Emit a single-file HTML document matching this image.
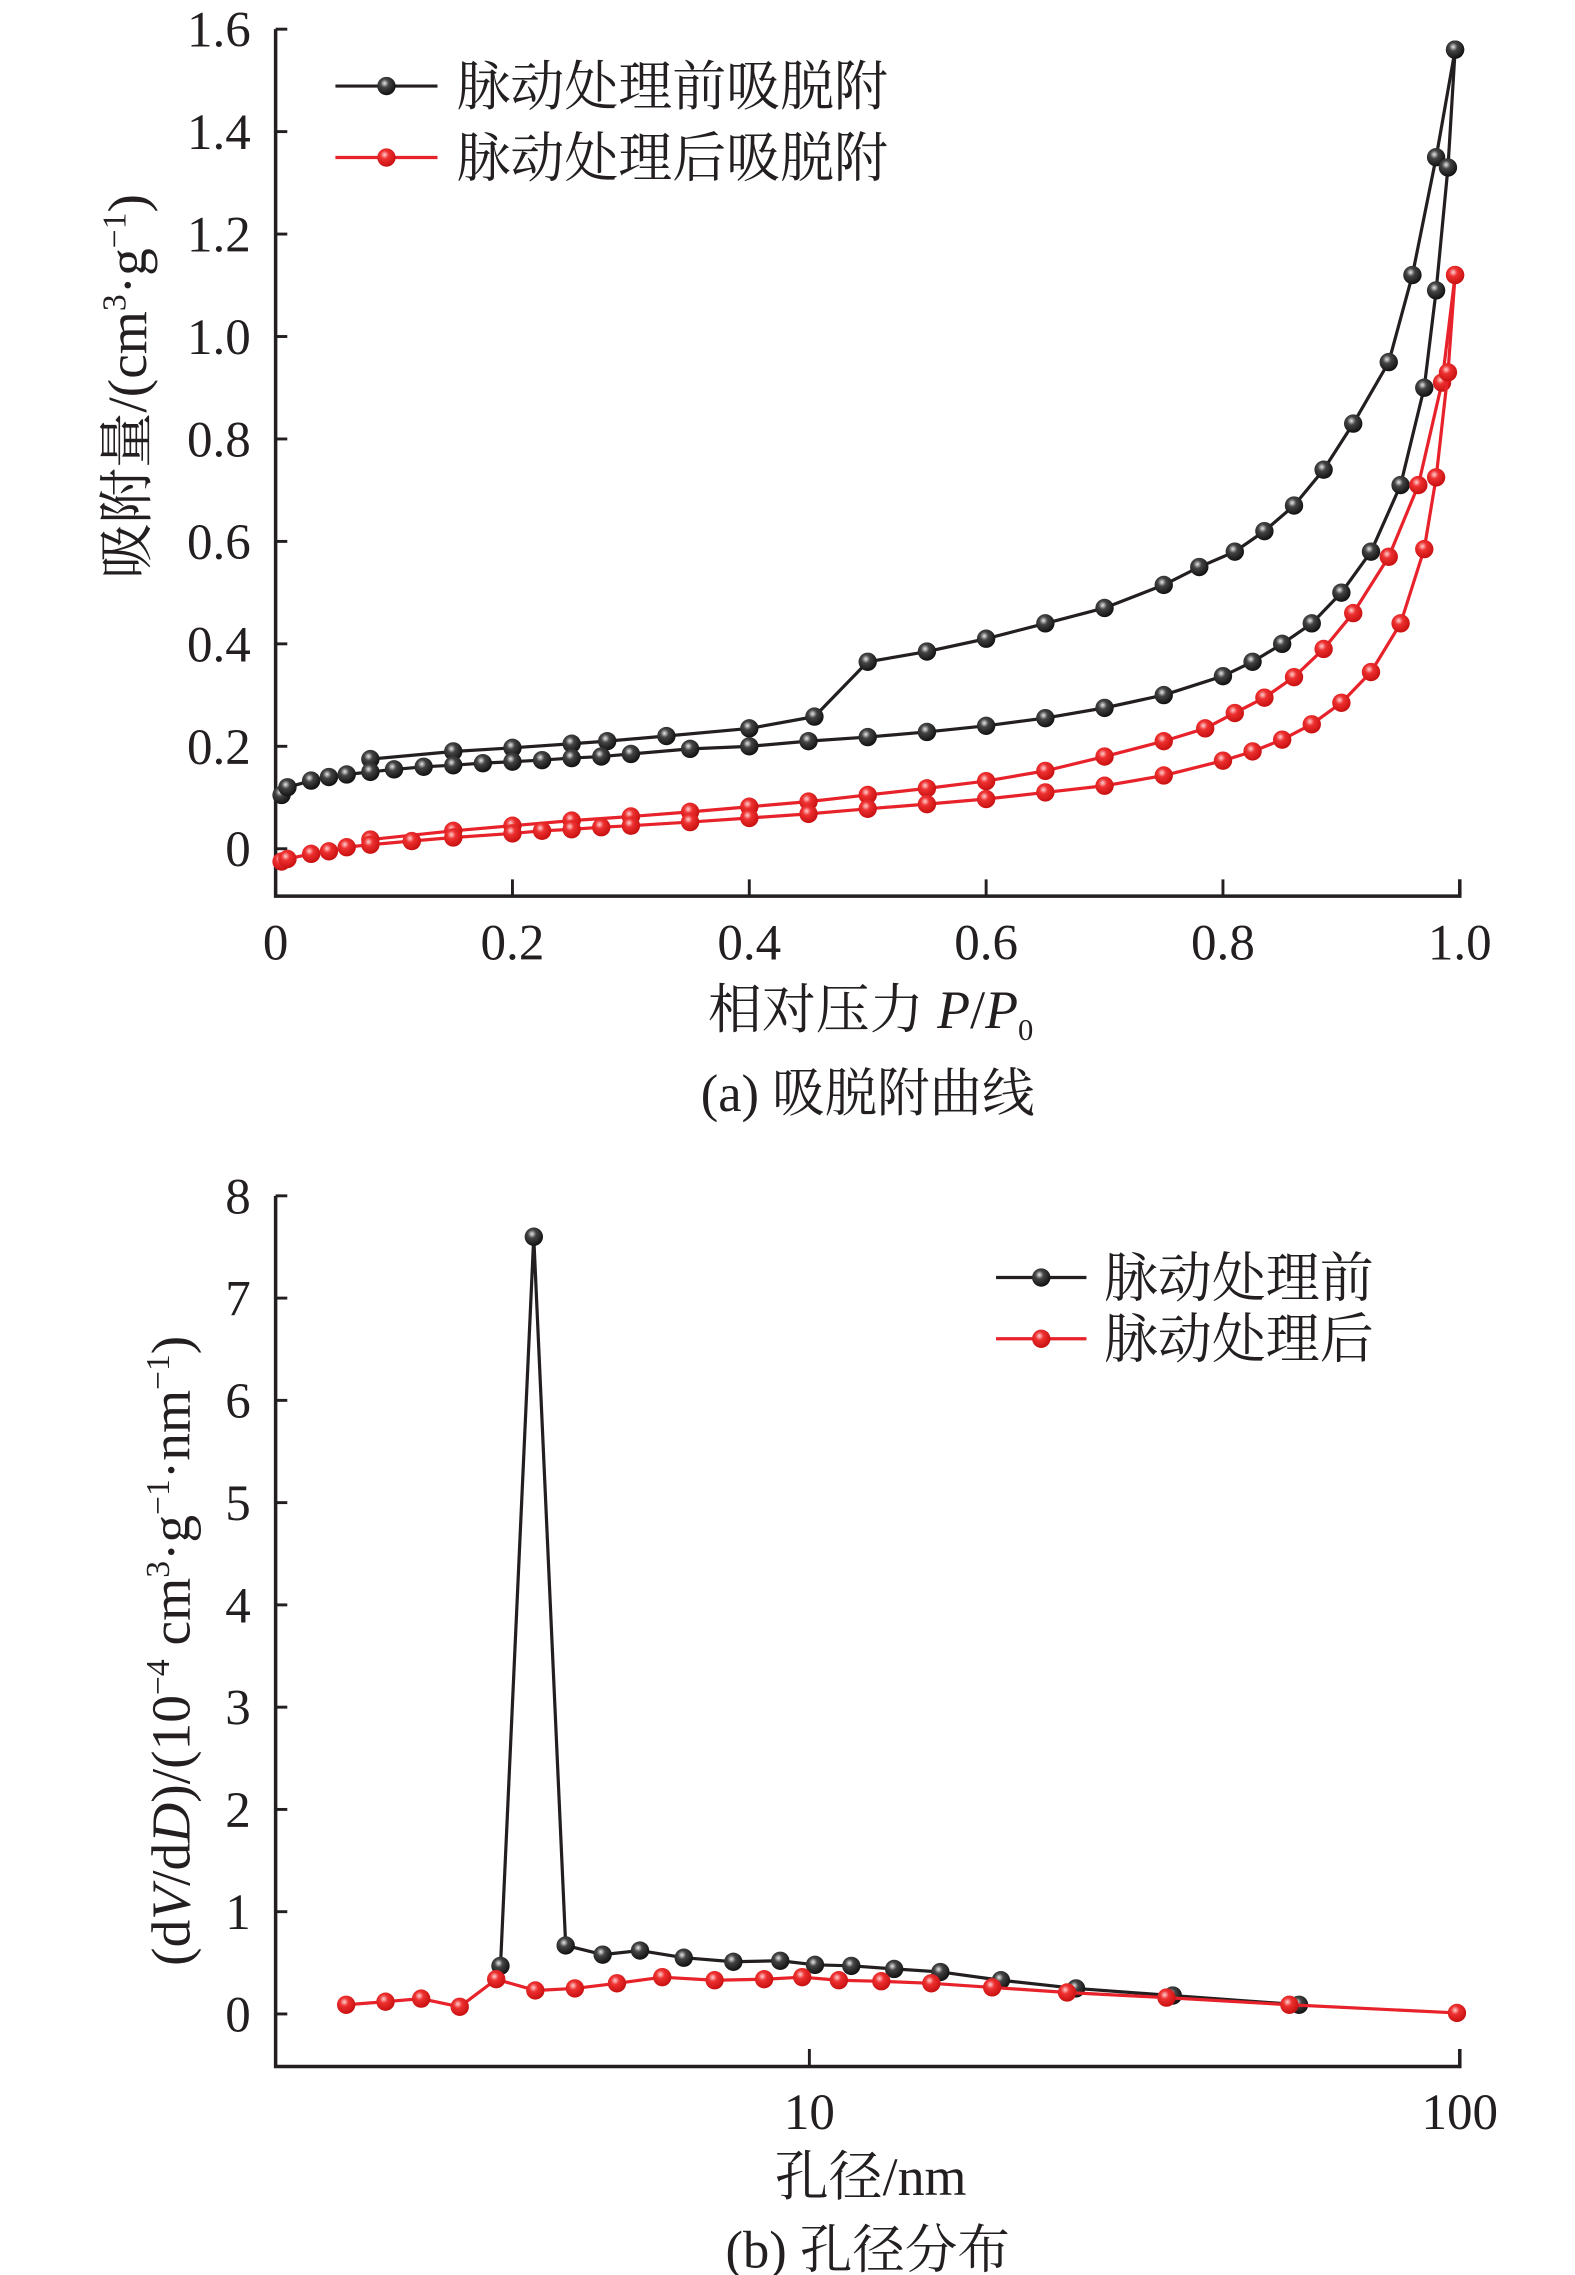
<!DOCTYPE html>
<html><head><meta charset="utf-8"><style>
html,body{margin:0;padding:0;background:#fff;overflow:hidden;}
svg{display:block;}
text{font-family:"Liberation Serif","Noto Serif CJK SC",serif;fill:#231f20;}
</style></head><body>
<svg id="fig" width="1575" height="2275" viewBox="0 0 1080 1560" xmlns="http://www.w3.org/2000/svg">
<defs>
<radialGradient id="gBlack" cx="0.4" cy="0.35" r="0.65"><stop offset="0" stop-color="#e8e8e8"/><stop offset="0.35" stop-color="#444"/><stop offset="1" stop-color="#111"/></radialGradient>
<radialGradient id="gRed" cx="0.4" cy="0.35" r="0.65"><stop offset="0" stop-color="#ffd0d0"/><stop offset="0.35" stop-color="#ee3030"/><stop offset="1" stop-color="#c81010"/></radialGradient>
</defs>
<g id="chartA"></g>
<g id="chartB"></g>
</svg>
<script>
// ---- Chart A data ----
const aYTicks = [0, 0.2, 0.4, 0.6, 0.8, 1.0, 1.2, 1.4, 1.6];
const aYTickLabels = ["0","0.2","0.4","0.6","0.8","1.0","1.2","1.4","1.6"];
const aXTicks = [0, 0.2, 0.4, 0.6, 0.8, 1.0];
const aXTickLabels = ["0","0.2","0.4","0.6","0.8","1.0"];
const blackAdsX = [0.005,0.01,0.03,0.045,0.06,0.08,0.1,0.125,0.15,0.175,0.2,0.225,0.25,0.275,0.3,0.35,0.4,0.45,0.5,0.55,0.6,0.65,0.7,0.75,0.8,0.825,0.85,0.875,0.9,0.925,0.95,0.97,0.98,0.99,0.996];
const blackAdsY = [0.105,0.12,0.133,0.14,0.145,0.15,0.155,0.16,0.163,0.167,0.17,0.173,0.177,0.18,0.185,0.195,0.2,0.21,0.218,0.228,0.24,0.255,0.275,0.30,0.337,0.365,0.40,0.44,0.50,0.58,0.71,0.90,1.09,1.33,1.56];
const blackDesX = [0.996,0.98,0.96,0.94,0.91,0.885,0.86,0.835,0.81,0.78,0.75,0.7,0.65,0.6,0.55,0.5,0.455,0.4,0.33,0.28,0.25,0.2,0.15,0.08];
const blackDesY = [1.56,1.35,1.12,0.95,0.83,0.74,0.67,0.62,0.58,0.55,0.515,0.47,0.44,0.41,0.385,0.365,0.258,0.235,0.22,0.21,0.205,0.197,0.19,0.175];
const redAdsX = [0.005,0.01,0.03,0.045,0.06,0.08,0.115,0.15,0.2,0.225,0.25,0.275,0.3,0.35,0.4,0.45,0.5,0.55,0.6,0.65,0.7,0.75,0.8,0.825,0.85,0.875,0.9,0.925,0.95,0.97,0.98,0.99,0.996];
const redAdsY = [-0.025,-0.02,-0.01,-0.005,0.003,0.008,0.015,0.022,0.03,0.035,0.038,0.042,0.045,0.052,0.06,0.068,0.078,0.087,0.097,0.11,0.123,0.143,0.172,0.19,0.213,0.243,0.285,0.345,0.44,0.585,0.725,0.93,1.12];
const redDesX = [0.996,0.985,0.965,0.94,0.91,0.885,0.86,0.835,0.81,0.785,0.75,0.7,0.65,0.6,0.55,0.5,0.45,0.4,0.35,0.3,0.25,0.2,0.15,0.08];
const redDesY = [1.12,0.91,0.71,0.57,0.46,0.39,0.335,0.295,0.265,0.235,0.21,0.18,0.152,0.132,0.118,0.105,0.092,0.082,0.072,0.063,0.055,0.045,0.035,0.018];
// ---- Chart B data ----
const bYTicks = [0,1,2,3,4,5,6,7,8];
const bYTickLabels = ["0","1","2","3","4","5","6","7","8"];
const bXTicks = [10, 100];
const bXTickLabels = ["10","100"];
const blackPoreX = [3.35,3.77,4.22,4.81,5.49,6.41,7.64,9.02,10.2,11.6,13.5,15.9,19.7,25.7,36.2,56.6];
const blackPoreY = [0.47,7.6,0.67,0.58,0.62,0.55,0.51,0.52,0.48,0.47,0.44,0.41,0.33,0.25,0.18,0.09];
const redPoreX = [1.94,2.23,2.53,2.90,3.30,3.79,4.36,5.06,5.94,7.15,8.52,9.75,11.1,12.9,15.4,19.1,24.9,35.4,54.7,99.0];
const redPoreY = [0.09,0.12,0.15,0.07,0.34,0.23,0.25,0.30,0.36,0.33,0.34,0.36,0.33,0.32,0.30,0.26,0.21,0.16,0.09,0.01];

const NS = "http://www.w3.org/2000/svg";
function mk(parent, tag, attrs, txt){
  const e = document.createElementNS(NS, tag);
  for (const k in attrs) e.setAttribute(k, attrs[k]);
  if (txt !== undefined) e.textContent = txt;
  parent.appendChild(e);
  return e;
}
const AXC = "#231f20";

const axA = v => 189 + (v - 0) / 1.0 * (1001 - 189);
const ayA = v => 582 - v / 1.6 * (582 - 20);
const axB = v => 555 + (Math.log10(v) - 1) * 446;
const ayB = v => 1381 - v / 8 * (1381 - 820);

function drawSeries(g, xs, ys, fx, fy, color, grad, name){
  const pts = xs.map((x,i)=> fx(x).toFixed(1)+","+fy(ys[i]).toFixed(1)).join(" ");
  const pl = mk(g, "polyline", {points: pts, fill:"none", stroke: color, "stroke-width": 2.2, "stroke-linejoin":"round"});
  
  
  xs.forEach((x,i)=>{
    const c = mk(g, "circle", {cx: fx(x), cy: fy(ys[i]), r: 6.3, fill: "url(#"+grad+")"});
    
    
  });
}

const gA = document.getElementById("chartA");
{
  const ax = mk(gA, "path", {d:"M189 20 V614.5 H1001 V603", fill:"none", stroke:AXC, "stroke-width":2.4});
  
  
  aYTicks.forEach((v,i)=>{
    const y = ayA(v);
    const t = mk(gA, "line", {x1:189, x2:197, y1:y, y2:y, stroke:AXC, "stroke-width":2});
    
    
    const l = mk(gA, "text", {x:172, y:y+12, "text-anchor":"end", "font-size":35}, aYTickLabels[i]);
    
    
  });
  aXTicks.forEach((v,i)=>{
    const x = axA(v);
    const t = mk(gA, "line", {x1:x, x2:x, y1:614.5, y2:603, stroke:AXC, "stroke-width":2});
    
    
    const l = mk(gA, "text", {x:x, y:658, "text-anchor":"middle", "font-size":35}, aXTickLabels[i]);
    
    
  });
  drawSeries(gA, blackDesX, blackDesY, axA, ayA, "#231f20", "gBlack", "black-desorption");
  drawSeries(gA, blackAdsX, blackAdsY, axA, ayA, "#231f20", "gBlack", "black-adsorption");
  drawSeries(gA, redDesX, redDesY, axA, ayA, "#e8222a", "gRed", "red-desorption");
  drawSeries(gA, redAdsX, redAdsY, axA, ayA, "#e8222a", "gRed", "red-adsorption");
}

const gB = document.getElementById("chartB");
{
  const ax = mk(gB, "path", {d:"M189 820 V1417 H1001 V1405", fill:"none", stroke:AXC, "stroke-width":2.4});
  
  
  bYTicks.forEach((v,i)=>{
    const y = ayB(v);
    const t = mk(gB, "line", {x1:189, x2:197, y1:y, y2:y, stroke:AXC, "stroke-width":2});
    
    
    const l = mk(gB, "text", {x:172, y:y+12, "text-anchor":"end", "font-size":35}, bYTickLabels[i]);
    
    
  });
  bXTicks.forEach((v,i)=>{
    const x = axB(v);
    const t = mk(gB, "line", {x1:x, x2:x, y1:1417, y2:1405, stroke:AXC, "stroke-width":2});
    
    
    const l = mk(gB, "text", {x:x, y:1460, "text-anchor":"middle", "font-size":35}, bXTickLabels[i]);
    
    
  });
  drawSeries(gB, blackPoreX, blackPoreY, axB, ayB, "#231f20", "gBlack", "before-treatment");
  drawSeries(gB, redPoreX, redPoreY, axB, ayB, "#e8222a", "gRed", "after-treatment");
}
</script>
<svg style="position:absolute;left:0;top:0" width="1575" height="2275" viewBox="0 0 1080 1560" xmlns="http://www.w3.org/2000/svg">
<style>text{font-family:"Liberation Serif","Noto Serif CJK SC",serif;fill:#231f20;}</style>
<defs>
<radialGradient id="lB" cx="0.4" cy="0.35" r="0.65"><stop offset="0" stop-color="#e8e8e8"/><stop offset="0.35" stop-color="#444"/><stop offset="1" stop-color="#111"/></radialGradient>
<radialGradient id="lR" cx="0.4" cy="0.35" r="0.65"><stop offset="0" stop-color="#ffd0d0"/><stop offset="0.35" stop-color="#ee3030"/><stop offset="1" stop-color="#c81010"/></radialGradient>
</defs>
<g>
<g>
<line x1="230" y1="59" x2="300" y2="59" stroke="#231f20" stroke-width="2.2"/>
<circle cx="265" cy="59" r="6.3" fill="url(#lB)"/>
<text x="313" y="72" font-size="37">脉动处理前吸脱附</text>
</g>
<g>
<line x1="230" y1="108" x2="300" y2="108" stroke="#e8222a" stroke-width="2.2"/>
<circle cx="265" cy="108" r="6.3" fill="url(#lR)"/>
<text x="313" y="121" font-size="37">脉动处理后吸脱附</text>
</g>
</g>
<text transform="translate(100,265) rotate(-90)" text-anchor="middle" font-size="38">吸附量/(cm<tspan font-size="23" dy="-14">3</tspan><tspan dy="14">·g</tspan><tspan font-size="23" dy="-14">−1</tspan><tspan dy="14">)</tspan></text>
<text x="597" y="705" text-anchor="middle" font-size="37">相对压力 <tspan font-style="italic">P</tspan>/<tspan font-style="italic">P</tspan><tspan font-size="21" dy="8">0</tspan></text>
<text x="595" y="762" text-anchor="middle" font-size="36">(a) 吸脱附曲线</text>
<g>
<g>
<line x1="683" y1="876" x2="745" y2="876" stroke="#231f20" stroke-width="2.2"/>
<circle cx="714" cy="876" r="6.3" fill="url(#lB)"/>
<text x="757" y="889" font-size="37">脉动处理前</text>
</g>
<g>
<line x1="683" y1="918" x2="745" y2="918" stroke="#e8222a" stroke-width="2.2"/>
<circle cx="714" cy="918" r="6.3" fill="url(#lR)"/>
<text x="757" y="931" font-size="37">脉动处理后</text>
</g>
</g>
<text transform="translate(130,1132) rotate(-90)" text-anchor="middle" font-size="38">(d<tspan font-style="italic">V</tspan>/d<tspan font-style="italic">D</tspan>)/(10<tspan font-size="23" dy="-14">−4</tspan><tspan dy="14"> cm</tspan><tspan font-size="23" dy="-14">3</tspan><tspan dy="14">·g</tspan><tspan font-size="23" dy="-14">−1</tspan><tspan dy="14">·nm</tspan><tspan font-size="23" dy="-14">−1</tspan><tspan dy="14">)</tspan></text>
<text x="597" y="1505" text-anchor="middle" font-size="37">孔径/nm</text>
<text x="595" y="1555" text-anchor="middle" font-size="36">(b) 孔径分布</text>
</svg>
</body></html>
